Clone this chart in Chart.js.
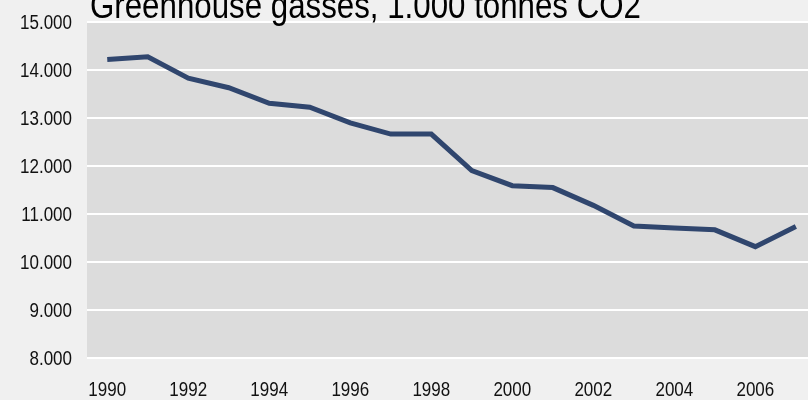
<!DOCTYPE html>
<html>
<head>
<meta charset="utf-8">
<script src="https://cdn.jsdelivr.net/npm/chart.js@4"></script>
<style>
  html, body { margin: 0; padding: 0; background: #f0f0f0; overflow: hidden; }
  #wrap { width: 808px; height: 400px; }
</style>
</head>
<body>
<div id="wrap"><canvas id="chart"></canvas></div>
<script>
// Greenhouse gasses, 1.000 tonnes CO2
const years = [1990, 1991, 1992, 1993, 1994, 1995, 1996, 1997, 1998, 1999,
  2000, 2001, 2002, 2003, 2004, 2005, 2006, 2007]
const emissions = [14220, 14275, 13830, 13630, 13305, 13225, 12900, 12665, 12665, 11905,
  11590, 11550, 11180, 10750, 10710, 10670, 10320, 10740]
const yearTicks = [1990, 1992, 1994, 1996, 1998, 2000, 2002, 2004, 2006]
const valueTicks = [8000, 9000, 10000, 11000, 12000, 13000, 14000, 15000]
const titleText = 'Greenhouse gasses, 1.000 tonnes CO2'

const FONT = "'Liberation Sans', Arial, sans-serif"
const SQUEEZE = 0.85 // the source text is horizontally condensed

// condensed text helper
function narrowText(ctx, text, x, y, size, align, baseline) {
  ctx.save()
  ctx.font = size + 'px ' + FONT
  ctx.fillStyle = '#111'
  ctx.textAlign = align
  ctx.textBaseline = baseline
  ctx.translate(x, y)
  ctx.scale(SQUEEZE, 1)
  ctx.fillText(text, 0, 0)
  ctx.restore()
}

// gray plot area behind the grid
const plotBackground = {
  id: 'plotBackground',
  beforeDraw(chart) {
    const { ctx, chartArea } = chart
    ctx.save()
    ctx.fillStyle = '#dcdcdc'
    ctx.fillRect(chartArea.left, chartArea.top, chartArea.right - chartArea.left, chartArea.bottom - chartArea.top)
    ctx.restore()
  }
}

// tick labels, drawn narrow at the scale positions
const narrowTicks = {
  id: 'narrowTicks',
  afterDraw(chart) {
    const { ctx, scales, chartArea } = chart
    yearTicks.forEach(v => {
      narrowText(ctx, String(v), scales.x.getPixelForValue(v), chartArea.bottom + 32, 20, 'center', 'middle')
    })
    valueTicks.forEach(v => {
      narrowText(ctx, (v / 1000).toFixed(3), chartArea.left - 15, scales.y.getPixelForValue(v) + 1, 20, 'right', 'middle')
    })
  }
}

// title sits over the top edge, partly cut off like in the source
const topTitle = {
  id: 'topTitle',
  afterDraw(chart) {
    const { ctx } = chart
    ctx.save()
    ctx.font = '37px ' + FONT
    ctx.fillStyle = '#000'
    ctx.textBaseline = 'alphabetic'
    ctx.textAlign = 'left'
    ctx.translate(90, 18)
    ctx.scale(0.845, 1)
    ctx.fillText(titleText, 0, 0)
    ctx.restore()
  }
}

new Chart(document.getElementById('chart'), {
  type: 'line',
  data: {
    datasets: [{
      data: years.map((y, i) => ({ x: y, y: emissions[i] })),
      borderColor: '#30466e',
      borderWidth: 5,
      pointRadius: 0,
      tension: 0,
      fill: false
    }]
  },
  options: {
    responsive: true,
    maintainAspectRatio: false,
    animation: false,
    layout: { padding: { top: 22, left: 0, right: 0, bottom: 0 } },
    plugins: {
      legend: { display: false },
      tooltip: { enabled: false }
    },
    scales: {
      x: {
        type: 'linear',
        min: 1989.5,
        max: 2007.3,
        afterBuildTicks(scale) {
          scale.ticks = yearTicks.map(v => ({ value: v }))
        },
        afterFit(scale) { scale.height = 42 },
        grid: { display: false, drawTicks: false },
        border: { display: false },
        ticks: { display: false }
      },
      y: {
        min: 8000,
        max: 15000,
        afterBuildTicks(scale) {
          scale.ticks = valueTicks.map(v => ({ value: v }))
        },
        afterFit(scale) { scale.width = 87 },
        grid: { color: '#ffffff', lineWidth: 2, drawTicks: false },
        border: { display: false },
        ticks: { display: false }
      }
    }
  },
  plugins: [plotBackground, narrowTicks, topTitle]
})
</script>
</body>
</html>
